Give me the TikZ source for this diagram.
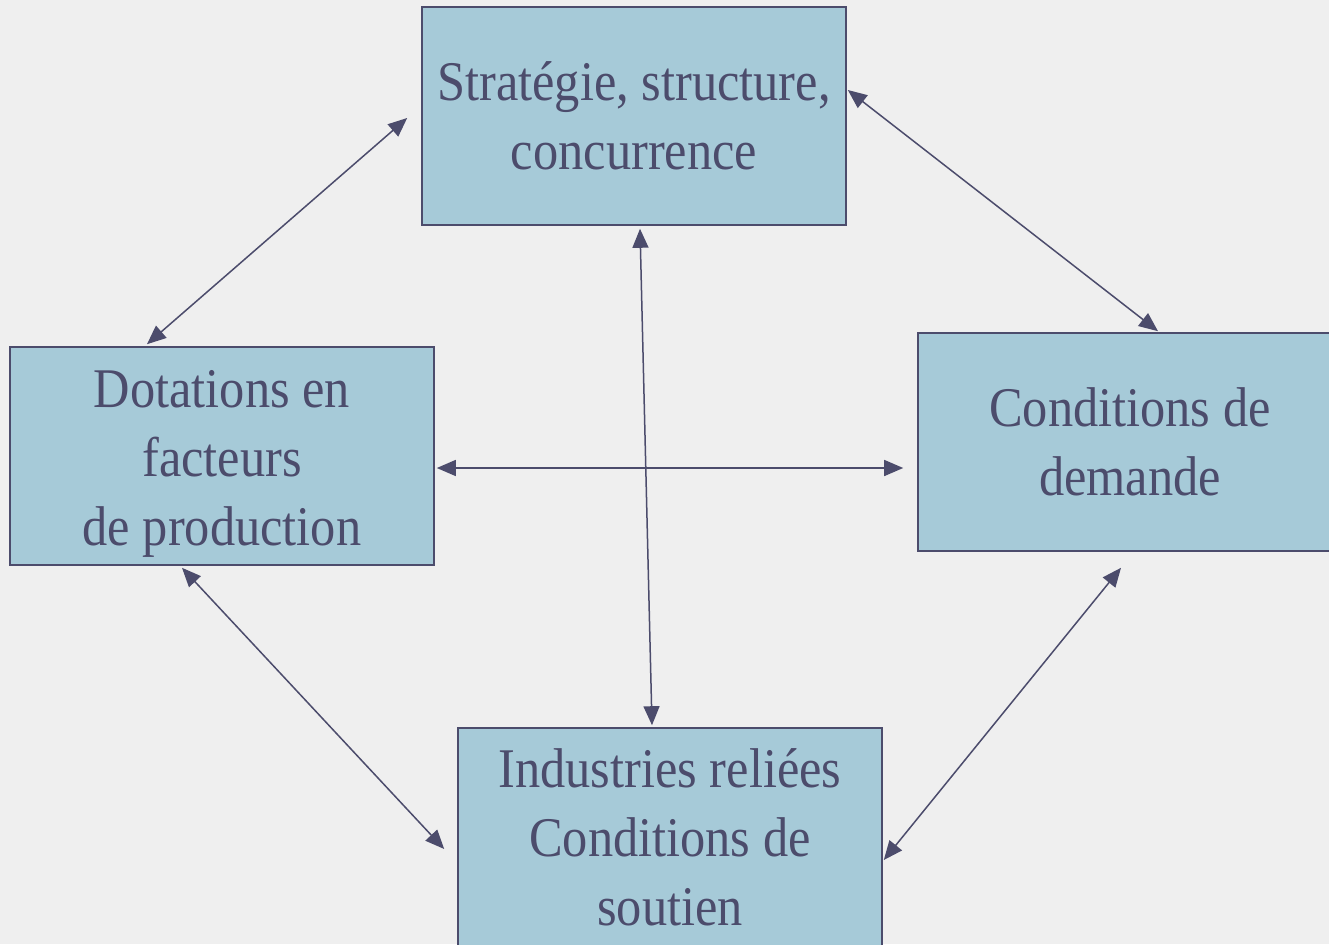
\documentclass[tikz,border=0pt]{standalone}
\usepackage{fontspec}
\setmainfont[FakeStretch=0.9]{Liberation Serif}
\usepackage{xcolor}
\usepackage{tikz}
\usetikzlibrary{arrows.meta,shapes}

\definecolor{boxblue}{HTML}{A6CAD8}
\definecolor{slate}{HTML}{4C4C6C}
\definecolor{paper}{HTML}{EFEFEF}

\tikzset{
  factor/.style={draw=slate, line width=1.6pt, fill=boxblue, text=slate,
    minimum width=424pt, minimum height=218pt, inner sep=0pt, align=center,
    font=\fontsize{56}{69}\selectfont},
  link/.style={draw=slate, line width=1.5pt,
    {Triangle[length=19pt,width=16pt]}-{Triangle[length=19pt,width=16pt]}}
}

\begin{document}
\begin{tikzpicture}[x=1pt,y=-1pt]
        \fill[paper] (0,0) rectangle (1329,944);
        \useasboundingbox (0,0) rectangle (1329,944);
        \clip (0,0) rectangle (1329,944);
        % the four boxes
        \node[factor] (strat) at (634,116) {Stratégie, structure,\\ concurrence};
        \node[factor] (dot) at (222,456) {\\[-16pt] Dotations en\\ facteurs\\ de production};
        \node[factor] (dem) at (1130,442) {Conditions de\\ demande};
        \node[factor] (ind) at (670,837) {Industries reliées\\ Conditions de\\ soutien};
        % double arrows
        \draw[link] ([shift={(-14,2)}]strat.west) -- ([shift={(-75,-2)}]dot.north);
        \draw[link] ([shift={(1,-26)}]strat.east) -- ([shift={(28,-1)}]dem.north);
        \draw[link] ([shift={(6,3)}]strat.south) -- ([shift={(-18,-2)}]ind.north);
        \draw[link] ([shift={(2,12)}]dot.east) -- ([shift={(-14,26)}]dem.west);
        \draw[link] ([shift={(-40,2)}]dot.south) -- ([shift={(-13,12)}]ind.west);
        \draw[link] ([shift={(-9,16)}]dem.south) -- ([shift={(1,23)}]ind.east);
    \end{tikzpicture}
\end{document}
